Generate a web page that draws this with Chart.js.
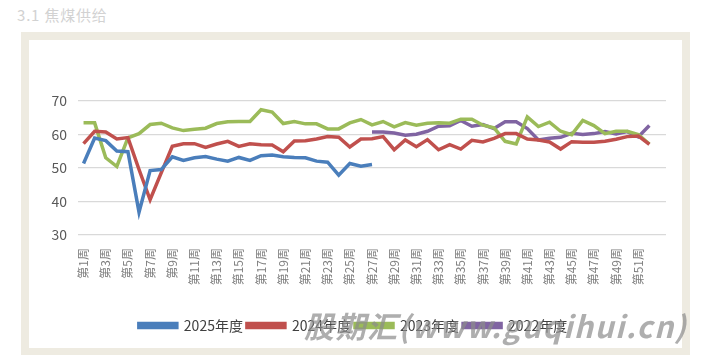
<!DOCTYPE html>
<html>
<head>
<meta charset="utf-8">
<script src="https://cdn.jsdelivr.net/npm/chart.js@4/dist/chart.umd.min.js"></script>
<style>
  html, body { margin: 0; padding: 0; background: #ffffff; }
  body { width: 706px; height: 355px; position: relative; overflow: hidden; font-family: "Noto Sans CJK SC", "Noto Sans", sans-serif; }
  #title { position: absolute; left: 17px; top: 4px; font-size: 15px; color: #d2d2d2; letter-spacing: 0.8px; }
  #frame { position: absolute; left: 21px; top: 32px; width: 653px; height: 308px; border: 8px solid #eeebe1; background: #fff; }
  #wrap { position: absolute; left: 0; top: 0; width: 706px; height: 355px; }
  #wm { position: absolute; left: 304px; top: 303px; font-size: 30px; font-weight: bold; font-style: italic; color: rgba(140,140,140,0.7); white-space: nowrap; letter-spacing: 1.5px; font-family: "Noto Sans CJK SC", "DejaVu Sans", sans-serif; }
</style>
</head>
<body>
<div id="title">3.1 焦煤供给</div>
<div id="frame"></div>
<div id="wrap"><canvas id="c" width="706" height="355"></canvas></div>
<div id="wm">股期汇(www.guqihui.cn)</div>
<script>
const weeks = ['第1周','第2周','第3周','第4周','第5周','第6周','第7周','第8周','第9周','第10周',
  '第11周','第12周','第13周','第14周','第15周','第16周','第17周','第18周','第19周','第20周',
  '第21周','第22周','第23周','第24周','第25周','第26周','第27周','第28周','第29周','第30周',
  '第31周','第32周','第33周','第34周','第35周','第36周','第37周','第38周','第39周','第40周',
  '第41周','第42周','第43周','第44周','第45周','第46周','第47周','第48周','第49周','第50周',
  '第51周','第52周',''];

const seriesNames = ['2025年度','2024年度','2023年度','2022年度'];

const y2025 = [51.3,58.9,58.1,55.0,54.8,36.8,49.2,49.5,53.3,52.2,
  53.0,53.4,52.6,52.0,53.1,52.2,53.6,53.8,53.3,53.1,
  53.0,52.0,51.7,47.8,51.3,50.5,51.0];

const y2024 = [57.2,60.9,60.7,58.6,59.0,49.5,40.5,48.5,56.4,57.2,
  57.2,56.1,57.1,57.9,56.4,57.2,56.9,56.8,54.8,58.0,
  58.1,58.6,59.3,59.1,56.2,58.6,58.7,59.3,55.4,58.3,
  56.3,58.4,55.4,56.9,55.6,58.2,57.7,58.8,60.2,60.2,
  58.6,58.3,57.7,55.6,57.8,57.6,57.6,57.9,58.5,59.3,
  59.5,57.0];

const y2023 = [63.4,63.4,53.0,50.4,58.9,60.2,62.9,63.3,61.9,61.1,
  61.5,61.8,63.2,63.7,63.8,63.8,67.3,66.6,63.2,63.8,
  63.1,63.1,61.6,61.6,63.4,64.4,62.8,63.8,62.2,63.5,
  62.7,63.3,63.4,63.3,64.5,64.5,62.7,61.9,57.9,57.1,
  65.2,62.3,63.6,60.9,59.9,64.1,62.6,60.2,60.9,60.9,
  59.9,57.1];

const y2022 = [null,null,null,null,null,null,null,null,null,null,
  null,null,null,null,null,null,null,null,null,null,
  null,null,null,null,null,null,60.7,60.7,60.4,59.7,
  60.0,60.9,62.4,62.5,64.1,62.4,62.9,61.7,63.7,63.7,
  61.7,58.3,58.8,59.1,60.3,59.9,60.2,60.8,60.1,60.8,
  59.2,62.6];

const yTicks = [30,40,50,60,70];

const colors = ['#4a7ebb','#c0504d','#9bbb59','#8064a2'];
const values = [y2025,y2024,y2023,y2022];

Chart.defaults.font.family = '"Noto Sans CJK SC", "Noto Sans", sans-serif';

new Chart(document.getElementById('c'), {
  type: 'line',
  data: {
    labels: weeks,
    datasets: seriesNames.map((n,i) => ({
      label: n,
      data: values[i],
      borderColor: colors[i],
      backgroundColor: colors[i],
      borderWidth: 3.5,
      pointRadius: 0,
      tension: 0,
      fill: false,
      spanGaps: false
    }))
  },
  options: {
    responsive: false,
    animation: false,
    devicePixelRatio: 1,
    layout: { padding: { left: 40, right: 40, top: 100.7, bottom: 12.5 } },
    plugins: {
      tooltip: { enabled: false },
      legend: {
        position: 'bottom',
        labels: {
          boxWidth: 38,
          boxHeight: 4,
          padding: 4,
          color: '#404040',
          font: { size: 14 }
        }
      }
    },
    scales: {
      x: {
        offset: true,
        grid: { display: false, drawTicks: false },
        border: { display: false },
        afterFit: s => { s.height = 79.5; },
        ticks: {
          autoSkip: false,
          maxRotation: 90,
          minRotation: 90,
          padding: 13,
          color: '#7f7f7f',
          font: { size: 12 },
          callback: function(v, i) { return i % 2 === 0 ? weeks[i] : ''; }
        }
      },
      y: {
        min: yTicks[0],
        max: yTicks[yTicks.length - 1],
        afterFit: s => { s.width = 38; },
        afterBuildTicks: s => { s.ticks = yTicks.map(v => ({ value: v })); },
        grid: { color: '#d9d9d9', lineWidth: 1.2, drawTicks: false },
        border: { display: false },
        ticks: { padding: 11, color: '#595959', font: { size: 14 } }
      }
    }
  }
});
</script>
</body>
</html>
